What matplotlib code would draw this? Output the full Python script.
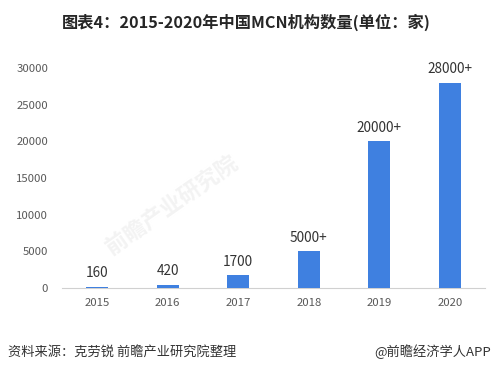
import matplotlib
matplotlib.use("Agg")
import matplotlib.pyplot as plt

plt.rcParams['font.family'] = ['Noto Sans CJK SC', 'DejaVu Sans']

years = ['2015', '2016', '2017', '2018', '2019', '2020']
counts = [160, 420, 1700, 5000, 20000, 28000]
labels = ['160', '420', '1700', '5000+', '20000+', '28000+']
yticks = [0, 5000, 10000, 15000, 20000, 25000, 30000]

fig = plt.figure(figsize=(4.92, 3.73), dpi=100)
ax = fig.add_axes([0.126, 0.228, 0.86, 0.59])

x = range(len(years))
ax.bar(x, counts, width=0.31, color='#3f80e0', zorder=3)
for i, v in enumerate(counts):
    ax.text(i, v + 900, labels[i], ha='center', va='bottom', fontsize=9.8, color='#333333')

ax.set_xlim(-0.5, 5.5)
ax.set_ylim(0, 30000)
ax.set_yticks(yticks)
ax.set_yticklabels([str(t) for t in yticks])
ax.set_xticks(list(x))
ax.set_xticklabels(years)
ax.tick_params(axis='both', length=0, labelsize=8.2, colors='#595959')
ax.tick_params(axis='y', pad=10)
ax.tick_params(axis='x', pad=7)
for s in ['top', 'right', 'left']:
    ax.spines[s].set_visible(False)
ax.spines['bottom'].set_color('#d0d0d0')

# faint watermark
fig.text(0.35, 0.45, '前瞻产业研究院', fontsize=16, color='#f3f3f3', rotation=35,
         ha='center', va='center', fontweight='bold', zorder=0)

fig.text(0.5, 0.94, '图表4：2015-2020年中国MCN机构数量(单位：家)', ha='center', va='center',
         fontsize=11.7, fontweight='bold', color='#262626')
fig.text(0.016, 0.056, '资料来源：克劳锐 前瞻产业研究院整理', ha='left', va='center',
         fontsize=9.5, color='#333333')
fig.text(0.997, 0.056, '@前瞻经济学人APP', ha='right', va='center',
         fontsize=9.5, color='#333333')

fig.savefig('out.png', dpi=100)
